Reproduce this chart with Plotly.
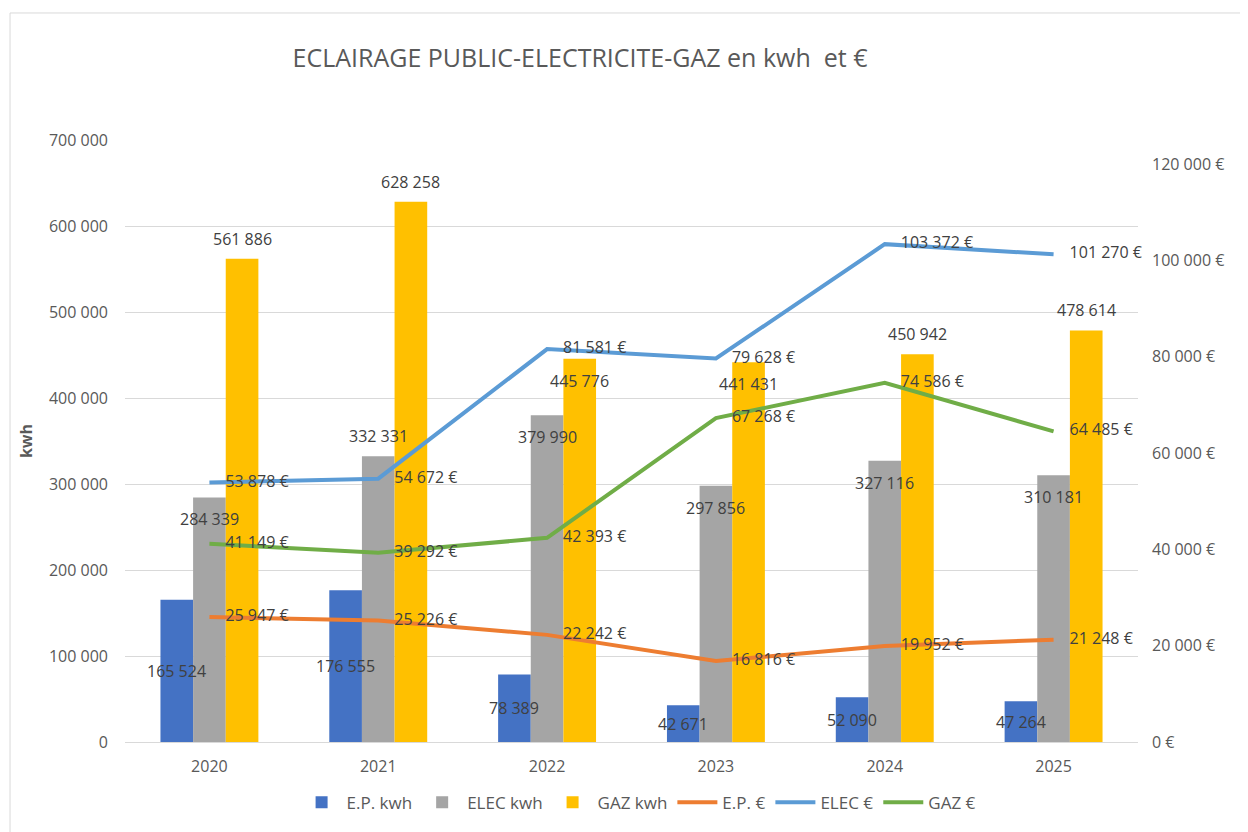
import plotly.graph_objects as go

years = ["2020", "2021", "2022", "2023", "2024", "2025"]
ep_kwh = [165524, 176555, 78389, 42671, 52090, 47264]
elec_kwh = [284339, 332331, 379990, 297856, 327116, 310181]
gaz_kwh = [561886, 628258, 445776, 441431, 450942, 478614]
ep_eur = [25947, 25226, 22242, 16816, 19952, 21248]
elec_eur = [53878, 54672, 81581, 79628, 103372, 101270]
gaz_eur = [41149, 39292, 42393, 67268, 74586, 64485]

left_ticks = [0, 100000, 200000, 300000, 400000, 500000, 600000, 700000]
right_ticks = [0, 20000, 40000, 60000, 80000, 100000, 120000]

# label placement as in the reference (Excel labels moved by hand)
elec_label_pos = ["inside", "outside", "inside", "inside", "inside", "inside"]
gaz_label_pos = ["outside", "outside", "inside", "inside", "outside", "outside"]


def fmt(v):
    return f"{v:,}".replace(",", " ")


NARROW = "Liberation Sans Narrow, Arial Narrow, Open Sans, sans-serif"
UI = "Open Sans, DejaVu Sans, sans-serif"
LABEL_COLOR = "#404040"
AXIS_COLOR = "#595959"

# page offset of the figure (body margin) compensated in margins
L, R, T, B = 117, 118, 132, 98
W, H = 1248, 832
BARGAP = 0.42
plot_w = W - L - R
bar_px = plot_w / len(years) * (1 - BARGAP) / 3

fig = go.Figure()

label_font = dict(family=NARROW, size=16, color=LABEL_COLOR)

for vals, name, color in [(ep_kwh, "E.P. kwh", "#4472C4"),
                          (elec_kwh, "ELEC kwh", "#A5A5A5"),
                          (gaz_kwh, "GAZ kwh", "#FFC000")]:
    fig.add_trace(go.Bar(x=years, y=vals, name=name, hoverinfo="y",
                         marker=dict(color=color, line=dict(width=0))))

line_specs = [(ep_eur, "E.P. €", "#ED7D31"),
              (elec_eur, "ELEC €", "#5B9BD5"),
              (gaz_eur, "GAZ €", "#70AD47")]

for vals, name, color in line_specs:
    fig.add_trace(go.Scatter(
        x=years, y=vals, name=name, yaxis="y2", showlegend=False,
        mode="lines+markers+text",
        line=dict(color=color, width=4),
        marker=dict(size=24, opacity=0, color=color),
        texttemplate="%{y:,.0f} €", textposition="middle right",
        textfont=label_font, cliponaxis=False, hoverinfo="skip",
    ))

for vals, name, color in line_specs:
    fig.add_trace(go.Scatter(
        x=[years[0]], y=[None], name=name, yaxis="y2", mode="lines",
        line=dict(color=color, width=4), showlegend=True, hoverinfo="skip",
    ))

annotations = []
# E.P. kwh labels: centred in the bar (x given as category index)
for i, v in enumerate(ep_kwh):
    annotations.append(dict(x=i, y=v / 2, xref="x", yref="y", text=fmt(v),
                            showarrow=False, xshift=-bar_px, yanchor="middle",
                            font=label_font))
# ELEC kwh / GAZ kwh labels: inside end or outside end
for series, pos_list, shift in [(elec_kwh, elec_label_pos, 0), (gaz_kwh, gaz_label_pos, bar_px)]:
    for i, (v, pos) in enumerate(zip(series, pos_list)):
        if pos == "inside":
            annotations.append(dict(x=i, y=v, xref="x", yref="y", text=fmt(v),
                                    showarrow=False, xshift=shift, yanchor="top",
                                    yshift=-9, font=label_font))
        else:
            annotations.append(dict(x=i, y=v, xref="x", yref="y", text=fmt(v),
                                    showarrow=False, xshift=shift, yanchor="bottom",
                                    yshift=7, font=label_font))

fig.update_layout(
    width=W, height=H,
    paper_bgcolor="white", plot_bgcolor="white",
    separators=", ",
    margin=dict(l=L, r=R, t=T, b=B),
    barmode="group", bargap=BARGAP, bargroupgap=0,
    title=dict(
        text="ECLAIRAGE PUBLIC-ELECTRICITE-GAZ en kwh  et €",
        x=572 / W, xanchor="center", xref="container",
        y=1 - 50 / H, yanchor="middle", yref="container",
        font=dict(family=NARROW, size=25, color=AXIS_COLOR),
    ),
    xaxis=dict(
        type="category", categoryorder="array", categoryarray=years,
        range=[-0.5, len(years) - 0.5],
        showgrid=False, showline=True, linecolor="#D9D9D9", linewidth=1,
        ticks="", tickfont=dict(family=NARROW, size=16, color=AXIS_COLOR),
        ticklabelstandoff=10, automargin=False,
    ),
    yaxis=dict(
        range=[0, 700000], tickvals=left_ticks, ticktext=[fmt(v) for v in left_ticks],
        showgrid=True, gridcolor="#D9D9D9", gridwidth=1, zeroline=False,
        showline=False, ticks="",
        tickfont=dict(family=UI, size=16, color=AXIS_COLOR),
        ticklabelstandoff=16, automargin=False,
        title=dict(text="<b>kwh</b>", font=dict(family=UI, size=16, color=AXIS_COLOR), standoff=12),
    ),
    yaxis2=dict(
        range=[0, 125000], tickvals=right_ticks,
        ticktext=[fmt(v) + " €" for v in right_ticks],
        overlaying="y", side="right", showgrid=False, zeroline=False,
        showline=False, ticks="",
        tickfont=dict(family=UI, size=16, color=AXIS_COLOR),
        ticklabelstandoff=13, automargin=False,
    ),
    legend=dict(
        orientation="h", x=0.507, xanchor="center", y=-0.101, yanchor="middle",
        font=dict(family=NARROW, size=17, color=AXIS_COLOR),
        traceorder="normal", itemwidth=40,
    ),
    annotations=annotations,
    shapes=[dict(
        type="rect", xref="paper", yref="paper",
        x0=-0.1135, x1=1.12, y0=-0.179, y1=1.211,
        line=dict(color="#D9D9D9", width=1), fillcolor="rgba(0,0,0,0)", layer="below",
    )],
)

fig.write_html("out.html")
